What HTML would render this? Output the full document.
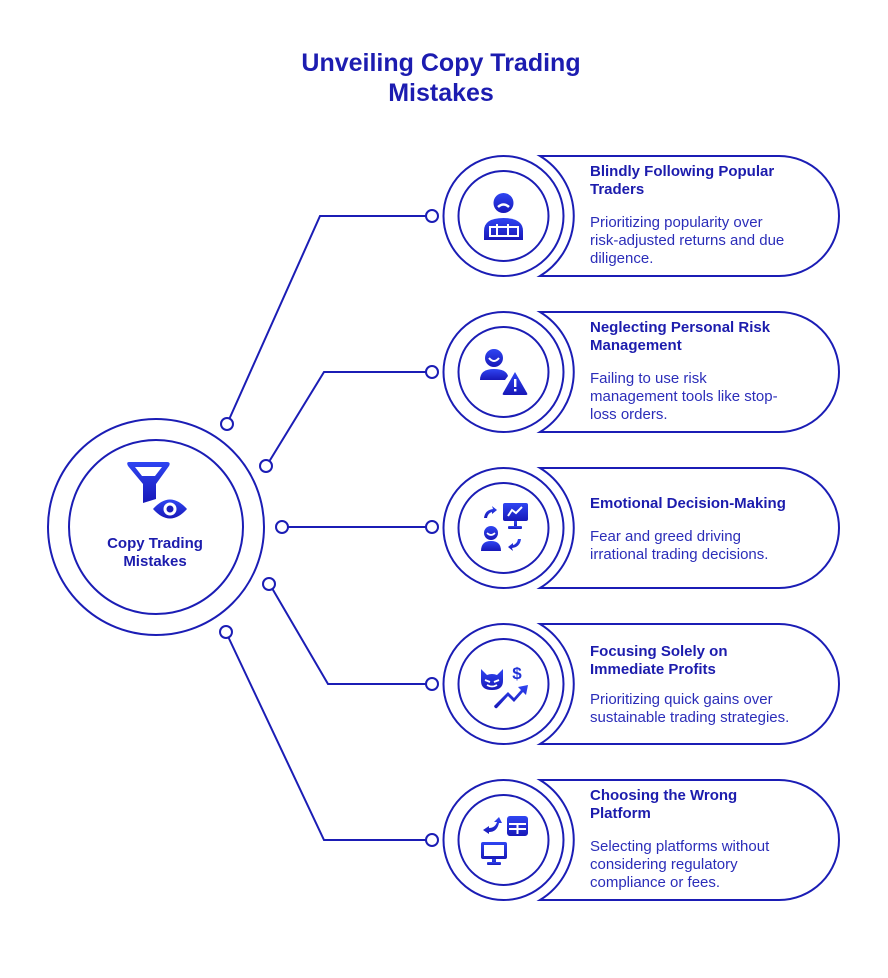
<!DOCTYPE html>
<html><head><meta charset="utf-8"><style>
html,body{margin:0;padding:0;background:#fff;}
svg{display:block;}
.t{font-family:"Liberation Sans",Arial,sans-serif;font-weight:bold;font-size:15px;fill:#1c1cad;}
.d{font-family:"Liberation Sans",Arial,sans-serif;font-size:15px;fill:#2b2db9;}
.h{font-family:"Liberation Sans",Arial,sans-serif;font-weight:bold;font-size:25px;fill:#1c1cb0;}
</style></head><body>
<svg width="888" height="978" viewBox="0 0 888 978" xmlns="http://www.w3.org/2000/svg">
<defs>
<linearGradient id="g" x1="0" y1="0" x2="0" y2="1">
<stop offset="0" stop-color="#2f45f2"/><stop offset="1" stop-color="#1818b8"/>
</linearGradient>
</defs>
<text class="h" x="441" y="71" text-anchor="middle">Unveiling Copy Trading</text>
<text class="h" x="441" y="101" text-anchor="middle">Mistakes</text>

<g fill="none" stroke="#1b1db5" stroke-width="2">
<circle cx="156" cy="527" r="108"/>
<circle cx="156" cy="527" r="87"/>
<polyline points="229.5,418.5 320,216 426,216"/>
<polyline points="269.5,461 324,372 426,372"/>
<polyline points="288,527 426,527"/>
<polyline points="272.5,589 328,684 426,684"/>
<polyline points="228.5,637.5 324,840 426,840"/>
<circle cx="227" cy="424" r="6" fill="#fff"/>
<circle cx="266" cy="466" r="6" fill="#fff"/>
<circle cx="282" cy="527" r="6" fill="#fff"/>
<circle cx="269" cy="584" r="6" fill="#fff"/>
<circle cx="226" cy="632" r="6" fill="#fff"/>
<circle cx="432" cy="216" r="6" fill="#fff"/>
<circle cx="432" cy="372" r="6" fill="#fff"/>
<circle cx="432" cy="527" r="6" fill="#fff"/>
<circle cx="432" cy="684" r="6" fill="#fff"/>
<circle cx="432" cy="840" r="6" fill="#fff"/>
<circle cx="503.5" cy="216" r="60"/><circle cx="503.5" cy="216" r="45"/>
<path d="M540 156 L779 156 A60 60 0 0 1 779 276 L540 276 A70.2 70.2 0 0 0 540 156 Z"/>
<circle cx="503.5" cy="372" r="60"/><circle cx="503.5" cy="372" r="45"/>
<path d="M540 312 L779 312 A60 60 0 0 1 779 432 L540 432 A70.2 70.2 0 0 0 540 312 Z"/>
<circle cx="503.5" cy="528" r="60"/><circle cx="503.5" cy="528" r="45"/>
<path d="M540 468 L779 468 A60 60 0 0 1 779 588 L540 588 A70.2 70.2 0 0 0 540 468 Z"/>
<circle cx="503.5" cy="684" r="60"/><circle cx="503.5" cy="684" r="45"/>
<path d="M540 624 L779 624 A60 60 0 0 1 779 744 L540 744 A70.2 70.2 0 0 0 540 624 Z"/>
<circle cx="503.5" cy="840" r="60"/><circle cx="503.5" cy="840" r="45"/>
<path d="M540 780 L779 780 A60 60 0 0 1 779 900 L540 900 A70.2 70.2 0 0 0 540 780 Z"/>
</g>

<g fill="url(#g)">
<path d="M129 462 L167 462 Q171 462 169 466 L156 484 L156 499 L143 503 L143 484 L128 466 Q126 462 129 462 Z"/>
<path d="M153 509 Q170 490 187 509 Q170 528 153 509 Z"/>
</g>
<path d="M135 467 L162 467 L155 476 L142 476 Z" fill="#fff"/>
<circle cx="170" cy="509" r="6.5" fill="#fff"/>
<circle cx="170" cy="509" r="3.5" fill="#1b1db8"/>
<text class="t" x="155" y="548" text-anchor="middle">Copy Trading</text>
<text class="t" x="155" y="566" text-anchor="middle">Mistakes</text>

<g fill="url(#g)">
<circle cx="503.5" cy="203" r="10"/>
<path d="M484 240 L484 231 Q484 218 503.5 218 Q523 218 523 231 L523 240 Z"/>
</g>
<path d="M498 207 Q503.5 202 509 207" stroke="#fff" stroke-width="2.5" fill="none"/>
<g fill="none" stroke="#fff" stroke-width="2">
<rect x="490" y="227" width="28" height="9"/>
<line x1="497" y1="224" x2="497" y2="236"/>
<line x1="508" y1="224" x2="508" y2="236"/>
</g>

<g fill="url(#g)">
<circle cx="494" cy="358" r="9"/>
<path d="M480 380 Q480 369 494 369 Q506 369 508 376 L505 380 Z"/>
<path d="M515 372 L527 393 Q528 395 526 395 L504 395 Q502 395 503 393 Z"/>
</g>
<path d="M489 358 Q494 364 499 358" stroke="#fff" stroke-width="2" fill="none"/>
<rect x="514" y="379" width="2.4" height="8" fill="#fff"/>
<rect x="514" y="389" width="2.4" height="2.4" fill="#fff"/>

<g fill="url(#g)">
<rect x="503" y="503" width="25" height="18" rx="2"/>
<rect x="514" y="521" width="3" height="6"/>
<rect x="508" y="526" width="14" height="3" rx="1"/>
<circle cx="491" cy="533" r="7"/>
<path d="M481 551 Q481 541 491 541 Q501 541 501 551 Z"/>
<path d="M484 518 Q485 510 493 509 L492 506 L497 510 L492 514 L492 512 Q488 513 487 518 Z"/>
<path d="M521 539 Q520 547 512 548 L513 551 L508 547 L513 543 L513 545 Q517 544 518 539 Z"/>
</g>
<path d="M508 516 L512 510 L516 513 L522 507" stroke="#fff" stroke-width="2" fill="none"/>
<path d="M487 533 Q491 537 495 533" stroke="#fff" stroke-width="1.6" fill="none"/>

<g fill="url(#g)">
<path d="M481 669 L487 675 Q492 673 497 675 L503 669 L503 681 Q503 690 492 690 Q481 690 481 681 Z"/>
<path d="M494 706 L508 692 L514 698 L521 690 L518 687 L528 685 L526 695 L523 692 L514 702 L508 696 L497 708 Q495 709 494 706 Z"/>
</g>
<path d="M485 680 L490 682 M499 680 L494 682 M487 685 Q492 688 497 685" stroke="#fff" stroke-width="1.8" fill="none"/>
<text x="517" y="679" text-anchor="middle" style="font-family:'Liberation Sans',sans-serif;font-weight:bold;font-size:17px;fill:#2233d8">$</text>

<g fill="url(#g)">
<rect x="507" y="816" width="21" height="20" rx="3"/>
<rect x="481" y="842" width="26" height="17" rx="2"/>
<rect x="492" y="859" width="4" height="5"/>
<rect x="487" y="862" width="14" height="3" rx="1"/>
<path d="M483 830 L489 826 L489 828 Q495 828 497 822 L494 822 L499 817 L502 823 L499 823 Q497 832 489 832 L489 834 Z"/>
</g>
<rect x="484" y="845" width="20" height="11" fill="#fff"/>
<g stroke="#fff" stroke-width="2">
<line x1="509" y1="824" x2="526" y2="824"/>
<line x1="517.5" y1="824" x2="517.5" y2="834"/>
<line x1="509" y1="829" x2="526" y2="829"/>
</g>

<text class="t" x="590" y="176">Blindly Following Popular</text>
<text class="t" x="590" y="194">Traders</text>
<text class="d" x="590" y="227">Prioritizing popularity over</text>
<text class="d" x="590" y="245">risk-adjusted returns and due</text>
<text class="d" x="590" y="263">diligence.</text>

<text class="t" x="590" y="332">Neglecting Personal Risk</text>
<text class="t" x="590" y="350">Management</text>
<text class="d" x="590" y="383">Failing to use risk</text>
<text class="d" x="590" y="401">management tools like stop-</text>
<text class="d" x="590" y="419">loss orders.</text>

<text class="t" x="590" y="508">Emotional Decision-Making</text>
<text class="d" x="590" y="541">Fear and greed driving</text>
<text class="d" x="590" y="559">irrational trading decisions.</text>

<text class="t" x="590" y="656">Focusing Solely on</text>
<text class="t" x="590" y="674">Immediate Profits</text>
<text class="d" x="590" y="704">Prioritizing quick gains over</text>
<text class="d" x="590" y="722">sustainable trading strategies.</text>

<text class="t" x="590" y="800">Choosing the Wrong</text>
<text class="t" x="590" y="818">Platform</text>
<text class="d" x="590" y="851">Selecting platforms without</text>
<text class="d" x="590" y="869">considering regulatory</text>
<text class="d" x="590" y="887">compliance or fees.</text>
</svg>
</body></html>
